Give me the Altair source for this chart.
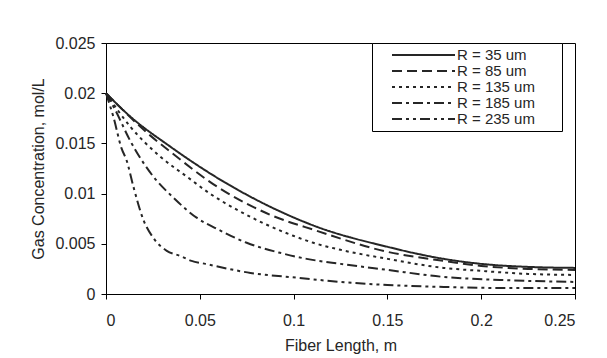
import altair as alt
import pandas as pd

series_names = ["R = 35 um", "R = 85 um", "R = 135 um", "R = 185 um", "R = 235 um"]

x_r35 = [0, 0.0128, 0.0341, 0.0608, 0.0874, 0.1123, 0.15, 0.18, 0.2, 0.225, 0.25]
y_r35 = [0.020, 0.0177, 0.0147, 0.0114, 0.0087, 0.0067, 0.0047, 0.0035, 0.0030, 0.0027, 0.0026]

x_r85 = [0, 0.0235, 0.0341, 0.0608, 0.0874, 0.1123, 0.15, 0.18, 0.2, 0.225, 0.25]
y_r85 = [0.020, 0.0158, 0.0142, 0.0105, 0.0079, 0.0063, 0.0042, 0.0033, 0.0028, 0.0025, 0.0024]

x_r135 = [0, 0.0128, 0.0288, 0.043, 0.0554, 0.0697, 0.0857, 0.0998, 0.1105, 0.125,
          0.15, 0.18, 0.2, 0.225, 0.25]
y_r135 = [0.020, 0.0167, 0.0137, 0.0117, 0.0100, 0.0084, 0.0069, 0.0058, 0.0051, 0.0044,
          0.0035, 0.0026, 0.0023, 0.0020, 0.0019]

x_r185 = [0, 0.005, 0.0128, 0.0252, 0.0359, 0.0483, 0.059, 0.075, 0.0928, 0.107, 0.125,
          0.15, 0.18, 0.21, 0.25]
y_r185 = [0.020, 0.0183, 0.0153, 0.0117, 0.0096, 0.0076, 0.0065, 0.0051, 0.0041, 0.0035, 0.0030,
          0.0024, 0.0017, 0.0014, 0.0012]

x_r235 = [0, 0.004, 0.0083, 0.011, 0.0146, 0.0199, 0.0252, 0.0324, 0.0394, 0.0456,
          0.053, 0.077, 0.103, 0.125, 0.15, 0.18, 0.21, 0.25]
y_r235 = [0.020, 0.0176, 0.0145, 0.0133, 0.0107, 0.0074, 0.0056, 0.0043, 0.0038, 0.0033,
          0.0030, 0.0021, 0.0016, 0.0012, 0.0009, 0.0007, 0.0006, 0.0006]

x_ticks = [0, 0.05, 0.1, 0.15, 0.2, 0.25]
y_ticks = [0, 0.005, 0.01, 0.015, 0.02, 0.025]

dash_styles = [[1, 0], [10, 5], [3, 4], [10, 4, 3, 4], [10, 4, 3, 4, 3, 4]]

rows = []
for name, xs, ys in zip(series_names,
                        [x_r35, x_r85, x_r135, x_r185, x_r235],
                        [y_r35, y_r85, y_r135, y_r185, y_r235]):
    for a, b in zip(xs, ys):
        rows.append({"series": name, "x": a, "y": b})
df = pd.DataFrame(rows)

FONT = "Liberation Sans"
INK = "#262626"

legend = alt.Legend(
    title=".", titleOrient="right", titleColor="white", titleFontSize=10,
    titlePadding=20,
    orient="none", legendX=266, legendY=0,
    symbolType="M0,0H9", symbolSize=196,
    symbolStrokeWidth=2, symbolStrokeColor=INK,
    symbolOffset=8, labelOffset=57,
    labelFontSize=15, labelFont=FONT, labelColor=INK,
    padding=4, rowPadding=0,
    strokeColor="black", fillColor="white",
)

chart = alt.Chart(df).mark_line(
    interpolate="monotone", strokeWidth=2, color=INK
).encode(
    x=alt.X("x:Q",
            scale=alt.Scale(domain=[0, 0.25], nice=False, zero=False),
            axis=alt.Axis(values=x_ticks, format="~g", title="Fiber Length, m",
                          grid=False, tickSize=5, labelPadding=13, titlePadding=9,
                          labelFontSize=16, titleFontSize=16, titleFontWeight="normal",
                          domainColor="black", tickColor="black",
                          labelColor=INK, titleColor=INK, labelFont=FONT, titleFont=FONT)),
    y=alt.Y("y:Q",
            scale=alt.Scale(domain=[0, 0.025], nice=False),
            axis=alt.Axis(values=y_ticks, format="~g", title="Gas Concentration, mol/L",
                          grid=False, tickSize=5, labelPadding=6, titlePadding=8,
                          labelFontSize=16, titleFontSize=16, titleFontWeight="normal",
                          domainColor="black", tickColor="black",
                          labelColor=INK, titleColor=INK, labelFont=FONT, titleFont=FONT)),
    strokeDash=alt.StrokeDash("series:N",
                              scale=alt.Scale(domain=series_names, range=dash_styles),
                              legend=legend),
).properties(
    width=469, height=251,
    autosize=alt.AutoSizeParams(type="none"),
    padding={"left": 106, "top": 43, "right": 32, "bottom": 64},
    background="white",
).configure_view(
    stroke="black", strokeWidth=1
)

chart.save("out.html", embed_options={"renderer": "svg", "actions": False})
